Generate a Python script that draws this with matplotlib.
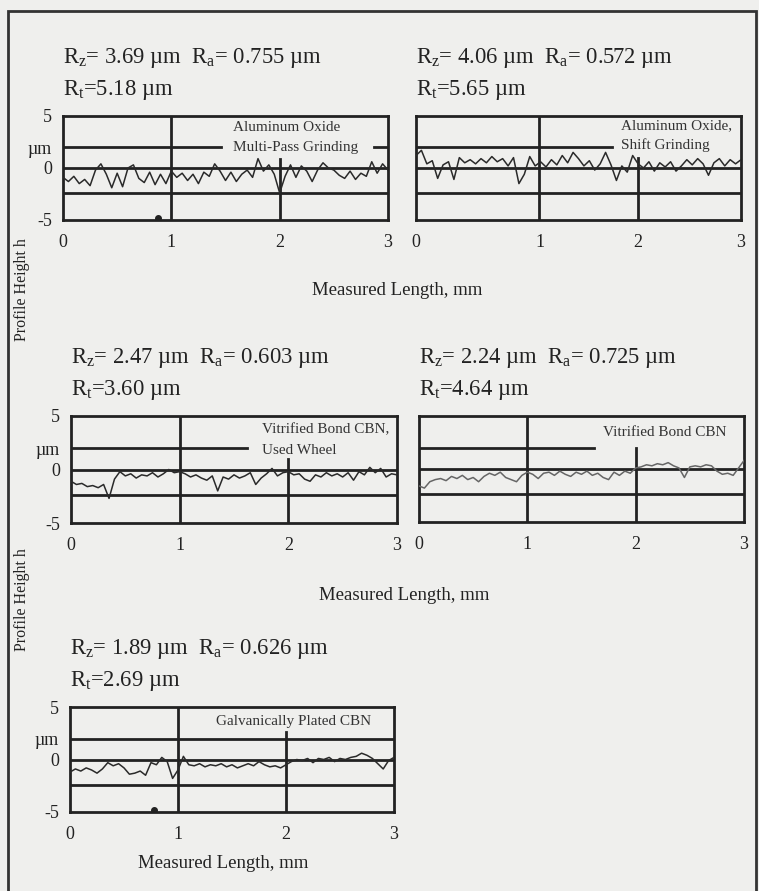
import numpy as np
import matplotlib
matplotlib.use("Agg")
import matplotlib.pyplot as plt
from matplotlib.patches import Rectangle

plt.rcParams['font.family'] = ['Liberation Serif', 'DejaVu Serif']

prof_ao_multi = [-0.9, -1.3, -0.8, -1.5, -1.1, -1.7, -0.2, 0.4, -0.6, -1.9,
                 -0.5, -1.8, 0.0, 0.3, -1.0, -1.4, -0.4, -1.6, -0.6, -1.5,
                 -0.3, -0.9, -0.5, -1.2, -0.6, -1.5, -0.4, -0.8, 0.4, -0.3,
                 -1.2, -0.4, -1.3, -0.6, -0.2, -0.9, 0.9, -0.3, 0.3, -0.6,
                 -2.4, -0.8, 0.3, -0.9, 0.2, -0.3, -1.3, -0.2, 0.5, 0.0,
                 -0.2, -0.7, -1.0, -0.3, -1.1, -0.5, -0.8, 0.6, -0.5, 0.4, -0.2]
prof_ao_shift = [1.2, 1.7, 0.4, 0.7, -1.0, 0.3, 0.6, -1.1, 1.0, 0.5,
                 0.8, 0.4, 0.9, 0.5, 1.1, 0.6, 0.9, 0.2, 1.0, -1.5,
                 -0.6, 1.1, 0.2, 0.6, 0.1, 0.8, 0.3, 1.2, 0.5, 1.5,
                 0.9, 0.2, 0.7, -0.2, 0.4, 1.5, 0.3, -1.2, 0.2, -0.4,
                 1.2, 0.4, 0.0, 0.6, -0.3, 0.5, 0.1, 0.6, -0.3, 0.2,
                 0.8, 0.3, 0.9, 0.4, -0.7, 0.5, 0.9, 0.2, 0.8, 0.4, 0.8]
prof_vb_used = [-1.1, -1.4, -1.3, -1.6, -1.5, -1.7, -1.4, -2.7, -0.9, -0.2,
                -0.6, -0.4, -0.8, -0.5, -0.6, -0.3, -0.7, -0.4, 0.0, -0.3,
                -0.2, -0.4, -0.7, -0.5, -0.8, -1.0, -0.6, -2.0, -0.7, -0.9,
                -0.5, -0.8, -0.6, -0.3, -1.4, -0.8, -0.4, 0.1, -0.6, -0.3,
                -0.2, -0.5, -0.4, -0.9, -1.1, -0.5, -0.7, -0.3, -0.6, -0.4,
                -0.7, -0.3, -1.0, -0.2, -0.5, 0.2, -0.3, 0.1, -0.7, -0.4, -0.5]
prof_vb = [-1.6, -1.8, -1.2, -1.0, -0.9, -1.1, -0.7, -0.9, -0.6, -1.0,
           -0.8, -1.2, -0.7, -0.4, -0.6, -0.3, -0.8, -1.0, -1.2, -0.6,
           -0.3, -0.5, -0.9, -0.4, -0.3, -0.6, -0.2, -0.5, -0.7, -0.3,
           -0.5, -0.2, -0.6, -0.4, -0.8, -1.0, -0.3, -0.6, -0.2, -0.4,
           0.1, 0.2, 0.4, 0.3, 0.5, 0.4, 0.6, 0.3, 0.1, -0.8,
           0.2, 0.3, 0.2, 0.4, 0.3, -0.2, -0.5, -0.4, -0.6, 0.1, 0.8]
prof_galv = [-1.2, -0.9, -1.1, -0.8, -1.0, -1.3, -0.9, -0.3, -0.6, -0.4,
             -0.8, -1.4, -1.3, -1.1, -1.5, -0.3, -0.5, 0.2, -0.2, -1.8,
             -1.0, 0.3, -0.5, -0.6, -0.4, -0.7, -0.5, -0.6, -0.4, -0.7,
             -0.5, -0.8, -0.6, -0.4, -0.6, -0.2, -0.5, -0.7, -0.6, -0.8,
             -0.5, -0.2, 0.0, -0.1, 0.1, -0.3, 0.1, 0.0, 0.2, -0.2,
             0.1, 0.0, 0.2, 0.3, 0.6, 0.4, 0.1, -0.4, -0.9, -0.1, 0.2]

profiles = [prof_ao_multi, prof_ao_shift, prof_vb_used, prof_vb, prof_galv]
rz = ["3.69", "4.06", "2.47", "2.24", "1.89"]
ra = ["0.755", "0.572", "0.603", "0.725", "0.626"]
rt = ["5.18", "5.65", "3.60", "4.64", "2.69"]
labels = [["Aluminum Oxide", "Multi-Pass Grinding"],
          ["Aluminum Oxide,", "Shift Grinding"],
          ["Vitrified Bond CBN,", "Used Wheel"],
          ["Vitrified Bond CBN"],
          ["Galvanically Plated CBN"]]

W, H = 759, 891
# panel boxes in pixels: left, top, right, bottom
boxes = [(63, 116, 388, 220), (416, 116, 741, 220), (71, 416, 397, 523),
         (419, 416, 744, 522), (70, 707, 394, 812)]
label_pos = [(1.57, [3.9, 2.0]), (1.89, [4.1, 2.2]), (1.76, [3.7, 1.8]),
             (1.70, [3.4]), (1.35, [3.6])]
# drawn grid of the original (not evenly placed)
upper_line = [[(0, 1.46), (2.87, 3)], [(0, 1.81)], [(0, 1.62)], [(0, 1.62)], [(0, 3)]]
vgrid = [(1.0, 2.0), (1.14, 2.05), (1.0, 2.0), (1.0, 2.0), (1.0, 2.0)]
v2_top = [0.9, 1.0, 1.0, 2.0, 2.6]
dots = {0: (0.88, -4.85), 4: (0.78, -4.85)}
show_y = [True, False, True, False, True]

bg = '#efefed'
ink = '#222222'
fig = plt.figure(figsize=(W / 100, H / 100), dpi=100, facecolor=bg)

for i, (l, t, r, b) in enumerate(boxes):
    ax = fig.add_axes([l / W, 1 - b / H, (r - l) / W, (b - t) / H])
    ax.set_facecolor(bg)
    x = np.linspace(0, 3, len(profiles[i]))
    c = '#666666' if i == 3 else '#2a2a2a'
    ax.plot(x, profiles[i], color=c, lw=1.1, zorder=3)
    for s0, s1 in upper_line[i]:
        ax.plot([s0, s1], [2.0, 2.0], color=ink, lw=2)
    ax.axhline(0, color=ink, lw=2)
    ax.axhline(-2.4, color=ink, lw=2)
    v1, v2 = vgrid[i]
    ax.plot([v1, v1], [-5, 5], color=ink, lw=2)
    ax.plot([v2, v2], [-5, v2_top[i]], color=ink, lw=2)
    if i in dots:
        ax.plot(*dots[i], 'o', color=ink, ms=4, zorder=4)
    lx, ly = label_pos[i]
    for txt, yy in zip(labels[i], ly):
        ax.text(lx, yy, txt, fontsize=11, color='#333333', ha='left',
                va='center', zorder=5)
    ax.set_xlim(0, 3)
    ax.set_ylim(-5, 5)
    ax.set_xticks([0, v1, v2, 3])
    ax.set_xticklabels(['0', '1', '2', '3'], fontsize=13)
    if show_y[i]:
        ax.set_yticks([5, 2, 0, -5])
        ax.set_yticklabels(['5', 'µm', '0', '-5'], fontsize=13)
    else:
        ax.set_yticks([])
    ax.tick_params(axis='x', length=0, pad=10, colors='#222222')
    ax.tick_params(axis='y', length=0, pad=8, colors='#222222')
    for sp in ax.spines.values():
        sp.set_linewidth(2)
        sp.set_color(ink)

    fig.text(l / W, 1 - (t - 58) / H,
             r"$\mathregular{R_z}$= %s µm  $\mathregular{R_a}$= %s µm" % (rz[i], ra[i]),
             fontsize=16.3, ha='left', va='center', color='#222222')
    fig.text(l / W, 1 - (t - 26) / H,
             r"$\mathregular{R_t}$=%s µm" % rt[i],
             fontsize=16.3, ha='left', va='center', color='#222222')

for xc, yc in [(397, 290), (404, 595), (223, 863)]:
    fig.text(xc / W, 1 - yc / H, "Measured Length, mm", fontsize=13.5,
             ha='center', va='center', color='#222222')
for yc in [290, 600]:
    fig.text(22 / W, 1 - yc / H, "Profile Height h", fontsize=11.5,
             rotation=90, ha='center', va='center', color='#222222')

fig.patches.append(Rectangle((8 / W, -0.02), (756 - 8) / W, 1.02 - 11 / H,
                             transform=fig.transFigure, fill=False,
                             lw=2, edgecolor='#333333'))

fig.savefig('out.png', dpi=100, facecolor=bg)
